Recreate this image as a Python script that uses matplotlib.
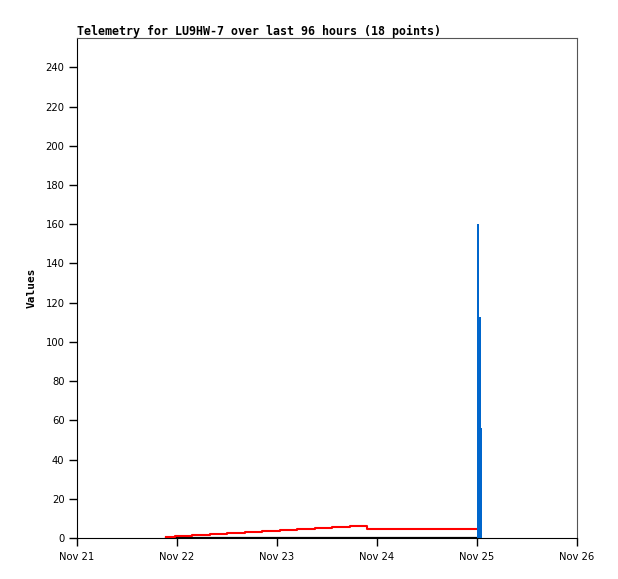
import matplotlib
matplotlib.use("Agg")
import matplotlib.pyplot as plt
import matplotlib.dates as mdates
import pandas as pd

# Red series (step line)
red_times = ["2023-11-21 21:24", "2023-11-21 23:30", "2023-11-22 03:42", "2023-11-22 07:54",
             "2023-11-22 12:06", "2023-11-22 16:18", "2023-11-22 20:30", "2023-11-23 00:42",
             "2023-11-23 04:54", "2023-11-23 09:06", "2023-11-23 13:18", "2023-11-23 17:30",
             "2023-11-23 21:42", "2023-11-25 00:00"]
red_values = [0.35, 0.9, 1.4, 1.9, 2.4, 2.9, 3.4, 3.9, 4.4, 5.0, 5.5, 6.0, 4.7, 4.7]

# Black series (flat at zero)
black_times = ["2023-11-21 21:24", "2023-11-25 00:00"]
black_values = [0, 0]

# Blue series (step-filled)
blue_times = ["2023-11-25 00:00", "2023-11-25 00:29", "2023-11-25 00:53", "2023-11-25 01:08"]
blue_values = [160, 112.5, 56.25, 0]

x_start = "2023-11-21 00:00"
x_end = "2023-11-26 00:00"
y_max = 255
y_ticks = list(range(0, 241, 20))
title = "Telemetry for LU9HW-7 over last 96 hours (18 points)"
y_label = "Values"

fig = plt.figure(figsize=(6.18, 5.79), dpi=100)
ax = fig.add_axes([77/618, 1-538/579, 500/618, 500/579])

rt = pd.to_datetime(red_times)
bt = pd.to_datetime(black_times)
blt = pd.to_datetime(blue_times)

ax.plot(bt, black_values, color="black", lw=1.6, drawstyle="steps-post", zorder=2)
ax.plot(rt, red_values, color="#ff0000", lw=1.5, drawstyle="steps-post", zorder=3)
ax.fill_between(blt, 0, blue_values, step="post", color="#0066cc", lw=0, antialiased=False, zorder=4)

ax.set_xlim(pd.Timestamp(x_start), pd.Timestamp(x_end))
ax.set_ylim(0, y_max)
ax.set_yticks(y_ticks)
ax.xaxis.set_major_locator(mdates.DayLocator())
ax.xaxis.set_major_formatter(mdates.DateFormatter("%b %d"))

for s in ["top", "right"]:
    ax.spines[s].set_color("#555555")
for s in ["left", "bottom"]:
    ax.spines[s].set_color("black")
ax.tick_params(axis="both", direction="out", length=6, width=1, labelsize=7.2, color="black")
ax.tick_params(axis="y", pad=3)
ax.tick_params(axis="x", pad=4)

ax.set_ylabel(y_label, fontsize=8, fontweight="bold", family="DejaVu Sans Mono")
ax.yaxis.set_label_coords(-0.08, 0.5)
fig.text(77/618, 1-35/579, title, fontsize=8.4, fontweight="bold", family="DejaVu Sans Mono",
         ha="left", va="baseline")

fig.savefig("out.png", dpi=100)
